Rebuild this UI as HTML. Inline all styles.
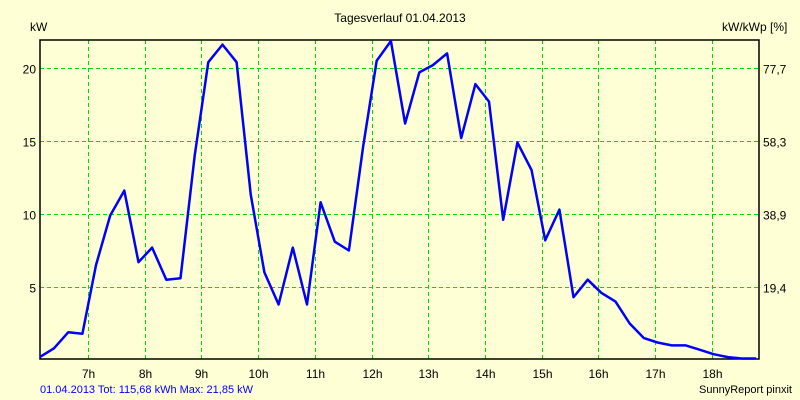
<!DOCTYPE html>
<html><head><meta charset="utf-8"><style>
body{margin:0;background:#ffffd6;}
svg{display:block;font-family:"Liberation Sans",sans-serif;font-size:12px;}
</style></head><body>
<svg id="chart" width="800" height="400">
<rect x="0" y="0" width="800" height="400" fill="#ffffd6"/>
<text x="400" y="22" text-anchor="middle" fill="#000">Tagesverlauf 01.04.2013</text>
<text x="30" y="31" fill="#000">kW</text>
<text x="722" y="31" fill="#000">kW/kWp [%]</text>
<g id="grid"></g><g id="ticks"></g>
<rect x="40" y="40" width="719" height="319" fill="none" stroke="#000" stroke-width="1.5"/>
<polyline id="line" fill="none" stroke="#0000ff" stroke-width="2.5" stroke-linejoin="round"/>
<text x="40" y="393" fill="#0000ff" font-size="11">01.04.2013 Tot: 115,68 kWh Max: 21,85 kW</text>
<text x="792" y="393" text-anchor="end" fill="#000" font-size="11">SunnyReport pinxit</text>
</svg>
<script>
const times=[6.15,6.40,6.65,6.90,7.14,7.39,7.64,7.89,8.13,8.38,8.63,8.88,9.12,9.37,9.62,9.87,10.11,10.36,10.61,10.86,11.10,11.35,11.60,11.85,12.09,12.34,12.59,12.84,13.08,13.33,13.58,13.83,14.07,14.32,14.57,14.82,15.06,15.31,15.56,15.81,16.05,16.30,16.55,16.80,17.04,17.29,17.54,17.79,18.03,18.28,18.53,18.78];
const power=[0.2,0.8,1.9,1.8,6.5,9.9,11.6,6.7,7.7,5.5,5.6,14.0,20.4,21.6,20.4,11.3,6.0,3.8,7.7,3.8,10.8,8.1,7.5,14.6,20.5,21.85,16.2,19.7,20.2,21.0,15.2,18.9,17.7,9.6,14.9,13.0,8.2,10.3,4.3,5.5,4.6,4.0,2.5,1.5,1.2,1.0,1.0,0.7,0.4,0.2,0.1,0.1];
const hourTicks=[7,8,9,10,11,12,13,14,15,16,17,18];
const kwTicks=[5,10,15,20];
const pctLabels=["19,4","38,9","58,3","77,7"];
const X0=40,X1=759,Y0=360,H0=6.153,H1=18.83;
const pxPerKw=14.6;
function xs(h){return X0+(h-H0)/(H1-H0)*(X1-X0);}
function ys(v){return Y0-v*pxPerKw;}
const NS="http://www.w3.org/2000/svg";
const grid=document.getElementById('grid'),ticks=document.getElementById('ticks');
function mk(tag,attrs,parent){const e=document.createElementNS(NS,tag);for(const k in attrs)e.setAttribute(k,attrs[k]);parent.appendChild(e);return e;}
hourTicks.forEach(h=>{
  const x=Math.round(xs(h))+0.5;
  const l=mk('line',{x1:x,x2:x,y1:40,y2:359,stroke:'#00e000','stroke-dasharray':'4,3'},grid);
  
  
  const t=mk('text',{x:x,y:378,'text-anchor':'middle',fill:'#000'},ticks);
  t.textContent=h+'h';
  
  
});
kwTicks.forEach((v,i)=>{
  const y=Math.round(ys(v))+0.5;
  const l=mk('line',{x1:40,x2:759,y1:y,y2:y,stroke:'#00e000','stroke-dasharray':'4,3'},grid);
  
  
  const t=mk('text',{x:36,y:y+5,'text-anchor':'end',fill:'#000'},ticks);
  t.textContent=v;
  
  
  const r=mk('text',{x:763,y:y+5,fill:'#000'},ticks);
  r.textContent=pctLabels[i];
  
  
});
document.getElementById('line').setAttribute('points',times.map((t,i)=>Math.min(X1,xs(t)).toFixed(1)+','+ys(power[i]).toFixed(1)).join(' '));
</script>
</body></html>
